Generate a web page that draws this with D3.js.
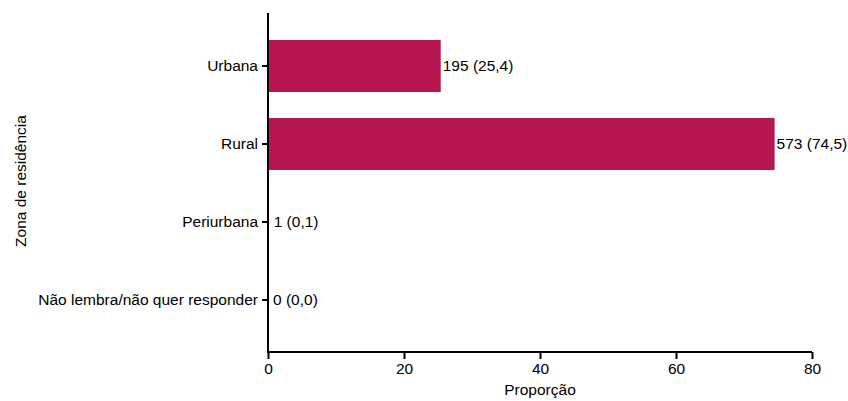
<!DOCTYPE html>
<html>
<head>
<meta charset="utf-8">
<script src="https://cdn.jsdelivr.net/npm/d3@7"></script>
<style>
  body { margin: 0; background: #fff; }
  svg { display: block; font-family: Arial, "Liberation Sans", sans-serif; }
</style>
</head>
<body>
<svg id="chart" width="848" height="401"></svg>
<script>
const categories = ["Urbana", "Rural", "Periurbana", "Não lembra/não quer responder"];
const counts = [195, 573, 1, 0];
const proportions = [25.4, 74.5, 0.1, 0.0];
const xTicks = [0, 20, 40, 60, 80];
const xTitle = "Proporção";
const yTitle = "Zona de residência";

const data = categories.map((c, i) => ({ cat: c, n: counts[i], p: proportions[i] }));
const FS = 15.5;
const FF = "Arial, 'Liberation Sans', sans-serif";

const svg = d3.select("#chart");
const x = d3.scaleLinear().domain([0, 80]).range([268, 812]);
const y = d3.scaleBand().domain(categories).range([27, 339]).paddingInner(1/3).paddingOuter(1/6);

const fmt = v => v.toFixed(1).replace(".", ",");

// bars
svg.append("g").selectAll("rect").data(data).join("rect")
  .attr("x", x(0))
  .attr("y", d => y(d.cat))
  .attr("width", d => x(d.p) - x(0))
  .attr("height", y.bandwidth())
  .attr("fill", "#b71651");

// value labels
svg.append("g").selectAll("text").data(data).join("text")
  .attr("x", d => x(d.p) + (d.p > 0.5 ? 2 : 5))
  .attr("y", d => y(d.cat) + y.bandwidth() / 2)
  .attr("dy", "0.35em")
  .attr("font-size", FS)
  .attr("fill", "#000")
  .text(d => `${d.n} (${fmt(d.p)})`);

// x axis
const xAxis = svg.append("g")
  .attr("transform", "translate(0,352)")
  .call(d3.axisBottom(x).tickValues(xTicks).tickSize(7).tickPadding(4).tickFormat(d3.format("d")));
xAxis.select(".domain").attr("stroke", "#000").attr("stroke-width", 2).attr("d", `M${x(0)},0H${x(80)}`);
xAxis.selectAll(".tick line").attr("stroke", "#000").attr("stroke-width", 2);
xAxis.selectAll(".tick text").attr("font-size", FS).attr("fill", "#000").attr("font-family", FF);

// y axis
const yAxis = svg.append("g")
  .attr("transform", `translate(${x(0)},0)`)
  .call(d3.axisLeft(y).tickSize(6).tickPadding(4));
yAxis.select(".domain").attr("stroke", "#000").attr("stroke-width", 2).attr("d", "M0,13V353");
yAxis.selectAll(".tick line").attr("stroke", "#000").attr("stroke-width", 2);
yAxis.selectAll(".tick text").attr("font-size", FS).attr("fill", "#000").attr("font-family", FF);

// titles
svg.append("text")
  .attr("x", x(40)).attr("y", 395)
  .attr("text-anchor", "middle").attr("font-size", FS).attr("fill", "#000")
  .text(xTitle);
svg.append("text")
  .attr("transform", "translate(26,181) rotate(-90)")
  .attr("text-anchor", "middle").attr("font-size", FS).attr("fill", "#000")
  .text(yTitle);
</script>
</body>
</html>
